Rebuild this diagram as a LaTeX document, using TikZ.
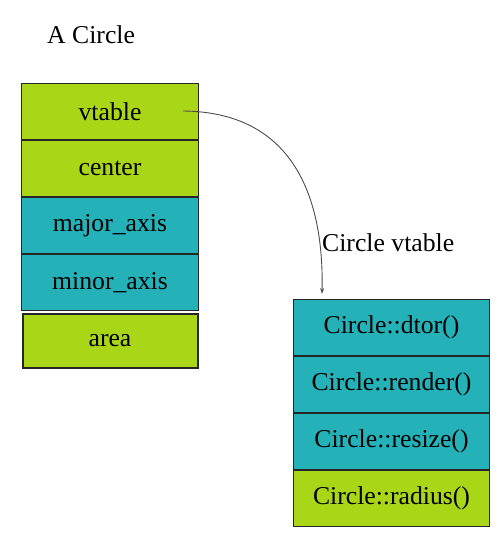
\documentclass[tikz,border=0pt]{standalone}
\usepackage{fontspec}
\usetikzlibrary{arrows.meta}
\setmainfont{Liberation Serif}
\definecolor{lime}{RGB}{170,214,24}
\definecolor{teal2}{RGB}{36,178,184}
\tikzset{
  cell/.style={draw=black!85, line width=1pt, minimum width=#1, minimum height=56pt, inner sep=0pt, font=\fontsize{25.7}{28}\selectfont},
  cell/.default=177pt,
  gcell/.style={cell=#1, fill=lime},
  gcell/.default=177pt,
  tcell/.style={cell=#1, fill=teal2},
  tcell/.default=177pt,
  lbl/.style={font=\fontsize{25.7}{28}\selectfont, inner sep=0pt}
}
\begin{document}
\begin{tikzpicture}[x=1pt,y=-1pt]
\useasboundingbox (0,0) rectangle (502,534);
\node[gcell, anchor=north west] (vt) at (21,83) {vtable};
\node[gcell, anchor=north] (ce) at (vt.south) {center};
\node[tcell, anchor=north] (ma) at (ce.south) {major\_axis};
\node[tcell, anchor=north] (mi) at (ma.south) {minor\_axis};
\node[gcell, line width=2pt, minimum width=175pt, minimum height=54pt, anchor=north] (ar) at ([yshift=-2pt]mi.south) {area};
\node[lbl, anchor=west] (title) at (47,35) {A Circle};

\node[tcell=196pt, anchor=north west] (d1) at (293,299) {Circle::dtor()};
\node[tcell=196pt, anchor=north] (d2) at (d1.south) {Circle::render()};
\node[tcell=196pt, anchor=north] (d3) at (d2.south) {Circle::resize()};
\node[gcell=196pt, anchor=north] (d4) at (d3.south) {Circle::radius()};
\node[lbl, anchor=west] (cvt) at (322,243) {Circle vtable};

\coordinate (start) at (183,111);
\coordinate (endp) at (322,294);
\draw[black!70, line width=0.9pt, -{Stealth[length=6pt,width=4pt]}] (start) .. controls (295,112) and (324,200) .. (endp);
\end{tikzpicture}
\end{document}
